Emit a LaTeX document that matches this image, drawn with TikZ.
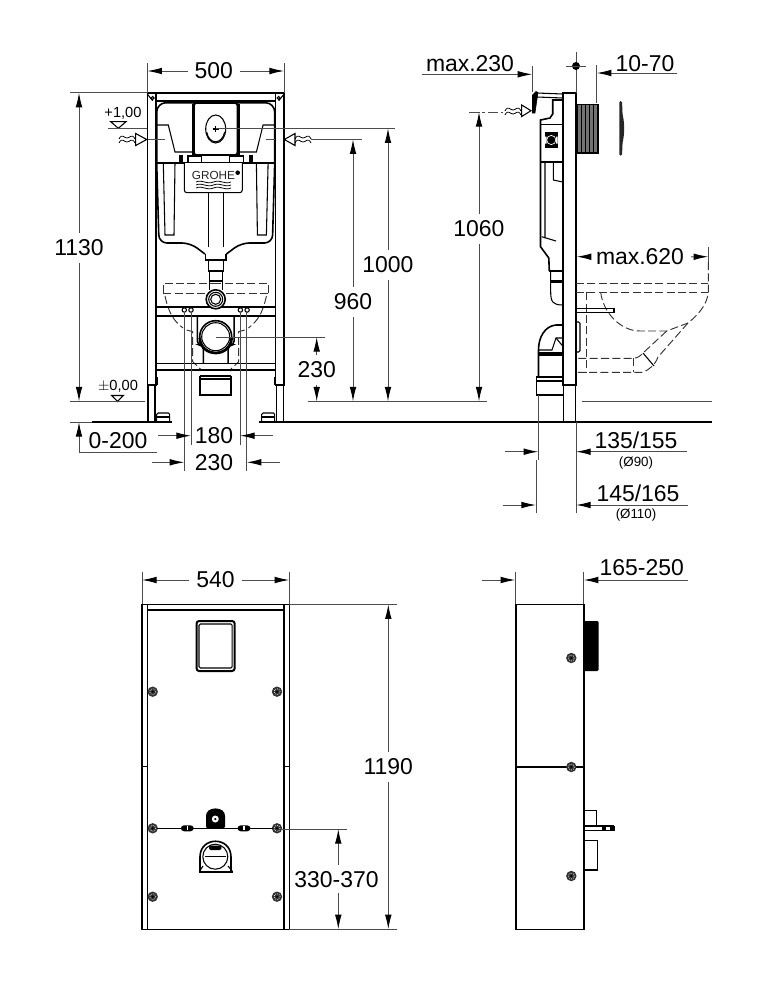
\documentclass[tikz,border=0pt]{standalone}
\usepackage{fontspec}
\setmainfont{Liberation Sans}
\usetikzlibrary{arrows.meta}
\tikzset{
  dimline/.style={draw=black!70,line width=.75pt},
  dimarr/.style={dimline,-{Latex[length=11pt,width=5pt,color=black]}},
  dimlabel/.style={font=\fontsize{17.2}{19}\selectfont,inner sep=5pt},
  levellabel/.style={font=\fontsize{11}{12}\selectfont,inner sep=1pt},
  notelabel/.style={font=\fontsize{10}{11}\selectfont,inner sep=1pt},
  part/.style={draw=black,line width=.8pt},
  heavy/.style={draw=black,line width=1.2pt},
  hidden/.style={draw=black!80,line width=.7pt,dash pattern=on 6pt off 2.5pt},
  pics/wiggle/.style={code={
    \draw[line width=.6pt] (-8,-1) .. controls (-5,-7) and (-3,-2) .. (0,-2) .. controls (3,-2) and (5,-7) .. (8,-1);
    \draw[line width=.6pt] (-8,3) .. controls (-5,-3) and (-3,2) .. (0,2) .. controls (3,2) and (5,-3) .. (8,3);
  }},
  pics/screw/.style={code={
    \fill[black!80] (0,0) circle (5.2);
    \draw[white,line width=.5pt,densely dotted] (0,0) circle (3);
    \fill[black] (0,0) circle (1.2);
  }}
}
\begin{document}
\begin{tikzpicture}[x=.75pt,y=-.75pt]
\useasboundingbox (0,0) rectangle (775,1000);

% front view, both halves
\foreach \s in {1,-1} {
\begin{scope}[shift={(215.7,0)},xscale=\s]
  \draw[heavy] (-68.4,92.7) rectangle (-59.7,385);
  \draw[heavy] (-67.7,385) -- (-67.7,422) (-60.7,385) -- (-60.7,422);
  \draw[part,rounded corners=1pt] (-59,422) -- (-59,413) -- (-46,413) -- (-46,422);
  \draw[part] (-59,417) -- (-46,417);
  \fill (-59.7,377) rectangle (-58,385);
  \draw[part] (-68.4,94) -- (-63,100.7);
  \draw[part] (-63,98) circle (1.5);
  \draw[heavy,rounded corners=7pt] (0,102.7) -- (-59,102.7) -- (-59,163);
  \draw[heavy,rounded corners=6pt] (-59,163) -- (-56.7,243) -- (-25.5,243) -- (-10.7,254);
  \draw[part] (-59,125) -- (-47.4,125) -- (-40.7,152) -- (-21.7,152);
  \draw[heavy] (-59,163) -- (0,163);
  \fill (-37,155) rectangle (-33,163);
  \draw[part] (-27.7,156) rectangle (-14,163);
  \draw[part] (-52.4,163) -- (-50.7,235) -- (-41.7,235) -- (-40.7,163);
  \draw[part] (-21.7,103) -- (-21.7,155);
  \fill (-24,104) rectangle (-21.7,155);
  \draw[part] (-7.4,193) -- (-7.4,247);
  \draw[hidden] (-52.4,293.3) -- (-52.4,283.3) -- (0,283.3);
  \draw[hidden] (-52.4,293.3) -- (0,293.3);
  \draw[hidden] (-50.7,296) .. controls (-47,313) and (-42,321) .. (-32.7,328);
  \draw[hidden] (-29,330) -- (-23,331.7) -- (-23,361.7) -- (-12.4,371.7) -- (0,371.7);
  \draw[part] (-31.4,310) circle (2.2) (-24.7,310) circle (2.2);
  \draw[heavy] (-10.4,254) -- (-10.4,260) -- (0,260);
  \draw[part] (-7.4,260) -- (-7.4,271) -- (-6.4,271) -- (-6.4,281);
  \draw[heavy,rounded corners=3pt] (-18.4,316.7) -- (-18.4,345) -- (-12.4,345) -- (-12.4,363);
  \draw[line width=1.5pt] (-15.7,376) -- (-15.7,395) -- (0,395);
  \draw[line width=1.5pt] (-15.7,376) -- (0,376);
  \draw[part] (-15.7,379) -- (0,379);
  \draw[part] (-15,370) -- (-10,376);
\end{scope}
}
\draw[heavy] (156,100.7) -- (275.4,100.7);
\draw[heavy] (147.3,92.7) -- (284.1,92.7);
\foreach \y in {306.7,316,363.3,370} \draw[heavy] (156,\y) -- (275.4,\y);
\draw[part] (197.3,316.7) -- (234.1,316.7);
\draw[heavy,fill=white] (215.7,336.7) circle (16);
\draw[part] (215.7,336.7) circle (14);
\draw[line width=2pt] (199.7,338) .. controls (201,358) and (230.4,358) .. (231.7,338);
\fill[white] (201,370.7) rectangle (230,375);
\draw[part] (206,370.7) -- (225,370.7);

% flush plate
\draw[heavy,rounded corners=2pt] (194,103) rectangle (237.4,155);
\draw[part] (215.7,129) ellipse [x radius=10,y radius=14];
\draw[part] (206.7,132) .. controls (209,145) and (222,145) .. (224.7,132);
\draw[part] (215.7,129) ++(-3,0) -- ++(6,0) ++(-3,-3) -- ++(0,6);

% name plate
\draw[part,rounded corners=2pt,fill=white] (184.3,163) -- (184.3,192.7) -- (242.3,192.7) -- (242.3,163);
\node[font=\fontsize{8.8}{9}\selectfont,text=black!85,inner sep=0pt] (brand) at (213.5,175.5) {GROHE};
\fill (237.7,172.7) circle (2.3);
\foreach \y in {182,185,188}
  \draw[line width=.6pt] (196,\y) .. controls (203,\y-3) and (206,\y+3) .. (213.5,\y) .. controls (221,\y-3) and (224,\y+3) .. (231,\y);
\draw[part] (223.1,193) -- (223.1,247);

% pipe and drain
\draw[line width=1.8pt] (209.3,280.8) -- (222.1,280.8);
\draw[part] (208.3,271) -- (223.1,271);
\draw[part] (209.3,281) -- (209.3,290) (222.1,281) -- (222.1,290);
\draw[heavy,fill=white] (215.7,299.3) circle (9.5);
\draw[part] (215.7,299.3) circle (7);
\draw[part] (215.7,299.3) circle (5);

% water connection left and right
\draw[part] (135.7,133.5) -- (135.7,145.5) -- (146.7,139.5) -- cycle;
\pic at (127,140) {wiggle};
\draw[part] (295,133.5) -- (295,145.5) -- (284.3,139.5) -- cycle;
\pic at (303,140) {wiggle};
\draw[dimline] (148,139.3) -- (165,139.3);
\draw[dimline] (266,139.3) -- (275,139.3);
\draw[dimline] (311,139.3) -- (362,139.3);

% levels
\node[levellabel] (levelup) at (123,113.5) {+1,00};
\draw[part] (110.7,121.7) -- (126,121.7) -- (118.3,128.3) -- cycle;
\draw[dimline] (108,128.3) -- (147,128.3);
\draw[dimline] (215.7,128.3) -- (395,128.3);
\node[levellabel] (levelzero) at (118,386.5) {$\pm$0,00};
\draw[part] (111.7,395.5) -- (123.3,395.5) -- (117.5,401.5) -- cycle;

% dimensions front view
\draw[dimline] (147.3,63) -- (147.3,92.7) (284.1,63) -- (284.1,92.7);
\draw[dimline] (70,92.7) -- (147.3,92.7);
\draw[dimline] (70,401.5) -- (145,401.5);
\draw[dimline] (308,401.5) -- (487,401.5);
\coordinate (w500l) at (147.3,71);
\coordinate (w500r) at (284.1,71);
\node[dimlabel] (lab500) at (213.7,71) {500};
\draw[dimarr] (lab500) -- (w500l);
\draw[dimarr] (lab500) -- (w500r);
\coordinate (h1130t) at (79,92.7);
\coordinate (h1130b) at (79,401.5);
\node[dimlabel] (lab1130) at (79,248) {1130};
\draw[dimarr] (lab1130) -- (h1130t);
\draw[dimarr] (lab1130) -- (h1130b);
\coordinate (h1000t) at (388,128.3);
\coordinate (h1000b) at (388,401.5);
\node[dimlabel] (lab1000) at (388,265) {1000};
\draw[dimarr] (lab1000) -- (h1000t);
\draw[dimarr] (lab1000) -- (h1000b);
\coordinate (h960t) at (353,139.3);
\coordinate (h960b) at (353,401.5);
\node[dimlabel] (lab960) at (353,302) {960};
\draw[dimarr] (lab960) -- (h960t);
\draw[dimarr] (lab960) -- (h960b);
\draw[dimline] (215.7,337) -- (325,337);
\coordinate (h230t) at (316.7,337);
\coordinate (h230b) at (316.7,401.5);
\node[dimlabel] (lab230h) at (316.7,370) {230};
\draw[dimarr] (lab230h) -- (h230t);
\draw[dimarr] (lab230h) -- (h230b);
\node[dimlabel,inner sep=0pt] (lab0200) at (118,441) {0-200};
\coordinate (h200t) at (79,422);
\coordinate (h200c) at (79,452);
\coordinate (h200e) at (156.7,452);
\draw[dimarr] (h200e) -- (h200c) -- (h200t);
\foreach \x in {191,240} \draw[dimline] (\x,312) -- (\x,445);
\foreach \x in {184.3,246.7} \draw[dimline] (\x,312) -- (\x,471);
\node[dimlabel,inner sep=0pt] (lab180) at (214,436) {180};
\coordinate (w180a) at (158,435.7);
\coordinate (w180l) at (191,435.7);
\coordinate (w180b) at (273,435.7);
\coordinate (w180r) at (240,435.7);
\draw[dimarr] (w180a) -- (w180l);
\draw[dimarr] (w180b) -- (w180r);
\node[dimlabel,inner sep=0pt] (lab230w) at (214,463) {230};
\coordinate (w230a) at (151.7,462.3);
\coordinate (w230l) at (184.3,462.3);
\coordinate (w230b) at (280,462.3);
\coordinate (w230r) at (246.7,462.3);
\draw[dimarr] (w230a) -- (w230l);
\draw[dimarr] (w230b) -- (w230r);

% floor
\draw[dimline] (70,422) -- (92,422);
\draw[heavy] (92,422) -- (172,422);
\draw[heavy] (259,422) -- (712,422);
\draw[dimline] (581.7,401) -- (712,401);

% side view
\draw[heavy] (562.7,92.7) rectangle (576,385);
\draw[heavy] (563.5,385) -- (563.5,422) (575.5,385) -- (575.5,422);
\draw[dimline] (576,52) -- (576,92.7);
\fill (576,66) circle (4);
\draw[dimline] (566,66) -- (586,66);
\draw[heavy] (562.7,100) -- (552.7,100) -- (552.7,114) -- (550,118) -- (540.5,120) -- (540.5,246.7) -- (548.8,258) -- (549.3,271);
\draw[part] (540.5,124.3) -- (562.7,124.3);
\draw[part] (540.5,162) -- (562.7,162);
\draw[part] (545,162) -- (545,238) (553.3,162) -- (553.3,180) -- (562.7,182);
\draw[part] (541.7,236.7) -- (556,241);
\draw[line width=2.4pt] (551,281.7) -- (562.7,281.7);
\draw[part] (549.3,271) -- (562.7,271);
\draw[part] (550.7,271) -- (550.7,292) .. controls (550.7,302) and (553,305) .. (562.7,305);
\fill (545,131.7) rectangle (557.7,148.3);
\fill[white] (545,136.5) rectangle (546.5,143.5) (556.2,136.5) rectangle (557.7,143.5);
\draw[white,line width=.5pt] (551.3,140) circle (4.6);
\fill[black,draw=black] (532.5,95) -- (536,91.5) -- (538,92.5) -- (535,113) -- (532.5,113) -- cycle;
\draw[part] (537,93) -- (562.7,94) (537,97) -- (562.7,98);
\draw[part] (521.7,105) -- (521.7,116.5) -- (531,110.7) -- cycle;
\pic at (513,112) {wiggle};

% flush box and cover
\fill[black!55] (576.7,104.3) rectangle (598.3,152.7);
\foreach \x in {581,585,589,593,597} \fill (\x,104.3) rectangle (\x+1.3,152.7);
\draw[heavy] (576.7,104.3) rectangle (598.3,152.7);
\fill[black!85,rounded corners=1pt] (619.3,101) -- (622,101) -- (622.6,115) .. controls (624.5,122) and (624.5,135) .. (622.6,142) -- (622,155.7) -- (619.3,155.7) -- cycle;

% elbow
\draw[heavy] (562.7,325) -- (556,325) .. controls (545,326) and (538.5,337) .. (538.5,350) -- (538.5,376.7);
\draw[part] (538.5,350) -- (552,350) -- (556,338) -- (562.7,338);
\draw[part] (556,338) -- (562.7,346);
\draw[line width=2.4pt] (538.5,354) -- (562.7,354);
\draw[heavy] (562.7,377) -- (536.3,377) -- (536.3,395) -- (562.7,395);
\draw[part] (536.3,381) -- (562.7,381);
\draw[dimline] (538.3,395) -- (538.3,460);
\draw[dimline] (536,460) -- (536,513);
\draw[dimline] (576,422) -- (576,513);

% bowl outline
\draw[hidden] (576,283.3) -- (708.3,283.3);
\draw[hidden] (576,292.3) -- (708.3,292.3);
\draw[dimline] (708.3,246.7) -- (708.3,262);
\draw[hidden] (708.3,262) -- (708.3,292.3) .. controls (707,305) and (698,315) .. (688,323) -- (658,357) .. controls (655,365) and (650,369) .. (643,372.3) -- (576,372.3);
\draw[hidden] (600.7,292.3) .. controls (603,312) and (620,331) .. (640,331) -- (666.7,331) -- (688,323);
\draw[hidden] (666.7,331) -- (643,353) .. controls (640,356) and (638,358) .. (633.3,358.3) -- (576,358.3);
\draw[hidden] (586.7,292.3) -- (586.7,372.3);
\draw[hidden] (633.3,358.3) -- (633.3,372.3);
\draw[part] (643,353) -- (654,366);
\draw[part] (576,308.3) rectangle (614,312.3);
\draw[part,rounded corners=1pt] (576,322) -- (580,322) -- (580,352) -- (576,352);

% dimensions side view
\node[dimlabel,inner sep=0pt] (labmax230) at (470,64) {max.230};
\coordinate (m230a) at (421.7,74.3);
\coordinate (m230t) at (532.3,74.3);
\draw[dimarr] (m230a) -- (m230t);
\draw[dimline] (532.3,66) -- (532.3,91.7);
\node[dimlabel,inner sep=0pt] (lab1070) at (645,64) {10-70};
\coordinate (d70a) at (676.7,73);
\coordinate (d70t) at (596.7,73);
\draw[dimarr] (d70a) -- (d70t);
\draw[dimline] (596.7,65) -- (596.7,103);
\draw[dimline,dash pattern=on 8pt off 2pt on 2pt off 2pt] (469,112) -- (503,112);
\coordinate (h1060t) at (479,112);
\coordinate (h1060b) at (479,401.5);
\node[dimlabel] (lab1060) at (479,229) {1060};
\draw[dimarr] (lab1060) -- (h1060t);
\draw[dimarr] (lab1060) -- (h1060b);
\coordinate (m620l) at (576.7,256.7);
\coordinate (m620r) at (708.3,256.7);
\node[dimlabel] (labmax620) at (640,257) {max.620};
\draw[dimarr] (labmax620) -- (m620l);
\draw[dimarr] (labmax620) -- (m620r);
\node[dimlabel,inner sep=0pt] (lab135) at (636,440) {135/155};
\node[notelabel] (note90) at (636,463) {(Ø90)};
\coordinate (s135a) at (505,451.7);
\coordinate (s135l) at (538.3,451.7);
\coordinate (s135b) at (687,451.7);
\coordinate (s135r) at (576,451.7);
\draw[dimarr] (s135a) -- (s135l);
\draw[dimarr] (s135b) -- (s135r);
\node[dimlabel,inner sep=0pt] (lab145) at (638,493) {145/165};
\node[notelabel] (note110) at (636,515) {(Ø110)};
\coordinate (s145a) at (503.3,505);
\coordinate (s145l) at (536,505);
\coordinate (s145b) at (688,505);
\coordinate (s145r) at (576,505);
\draw[dimarr] (s145a) -- (s145l);
\draw[dimarr] (s145b) -- (s145r);

% panel, front
\draw[heavy] (142,604.3) rectangle (289.3,929.3);
\draw[heavy] (147.3,604.3) -- (147.3,929.3) (284,604.3) -- (284,929.3);
\draw[heavy] (147.3,610) -- (284,610);
\draw[part] (142,766.7) -- (147.3,766.7) (284,766.7) -- (289.3,766.7);
\draw[line width=1.5pt,rounded corners=2pt] (196.5,621) rectangle (234.7,671);
\draw[part,rounded corners=1pt] (199,624) rectangle (232.2,668);
\foreach \x in {152.7,277} \foreach \y in {691.7,828.3,896.7} \pic at (\x,\y) {screw};
\draw[heavy] (157,828.3) -- (273,828.3);
\foreach \x in {187.3,244} {
  \fill[rounded corners=2.5pt] (\x-6.5,825.3) rectangle (\x+6.5,831.3);
  \fill[white] (\x-.6,826.3) rectangle (\x+1,830.3);
}
\fill[rounded corners=1pt] (206,828.3) -- (206,817) .. controls (206,806) and (225,806) .. (225,817) -- (225,828.3) -- cycle;
\fill[white] (215.3,819) circle (3.5);
\fill (215.3,819) circle (1.2);
\draw[heavy] (200,871.7) -- (200,857) .. controls (200,836) and (231,836) .. (231,857) -- (231,871.7);
\draw[heavy] (199.3,871.7) -- (232.7,871.7);
\draw[part] (215.3,856.7) circle (12.5);
\draw[part] (203,866) -- (199.3,871.7) (228,866) -- (232.7,871.7);
\fill[rounded corners=1.5pt] (209,845.5) rectangle (221.5,850);
\draw[part] (205,856.7) -- (226,856.7);

% panel, side
\draw[heavy] (515.7,604.3) rectangle (583.7,929.3);
\draw[heavy] (515.7,767) -- (583.7,767);
\fill[rounded corners=1pt] (583.7,621) rectangle (598.7,671);
\foreach \y in {658,767,876} \pic at (571.3,\y) {screw};
\draw[part] (583.7,810.7) -- (596.7,810.7) -- (596.7,826.7);
\draw[part] (583.7,840.7) -- (597.3,840.7) -- (597.3,870) -- (583.7,870);
\draw[part] (583.7,826) -- (614,826) (583.7,830.6) -- (614,830.6);
\fill (602,826) rectangle (606,830.6);
\fill (610,826) rectangle (614.5,830.6);

% dimensions panels
\draw[dimline] (142,571.7) -- (142,604.3) (289.3,571.7) -- (289.3,604.3);
\coordinate (w540l) at (142,580);
\coordinate (w540r) at (289.3,580);
\node[dimlabel] (lab540) at (215.5,580) {540};
\draw[dimarr] (lab540) -- (w540l);
\draw[dimarr] (lab540) -- (w540r);
\draw[dimline] (289.3,604.3) -- (397,604.3);
\draw[dimline] (289.3,929.3) -- (397,929.3);
\coordinate (h1190t) at (388.3,604.3);
\coordinate (h1190b) at (388.3,929.3);
\node[dimlabel] (lab1190) at (388.3,767) {1190};
\draw[dimarr] (lab1190) -- (h1190t);
\draw[dimarr] (lab1190) -- (h1190b);
\draw[dimline] (282,829) -- (346.7,829);
\coordinate (h330t) at (338.3,829);
\coordinate (h330m) at (338.3,865);
\coordinate (h330n) at (338.3,893);
\coordinate (h330b) at (338.3,929.3);
\node[dimlabel,inner sep=0pt] (lab330) at (336.5,880) {330-370};
\draw[dimarr] (h330m) -- (h330t);
\draw[dimarr] (h330n) -- (h330b);
\draw[dimline] (515.3,571.7) -- (515.3,604.3) (583.7,571.7) -- (583.7,604.3);
\coordinate (w165a) at (482.3,580);
\coordinate (w165l) at (515.3,580);
\coordinate (w165b) at (688,580);
\coordinate (w165r) at (583.7,580);
\draw[dimarr] (w165a) -- (w165l);
\draw[dimarr] (w165b) -- (w165r);
\node[dimlabel,inner sep=0pt] (lab165) at (641.7,568) {165-250};
\end{tikzpicture}
\end{document}
